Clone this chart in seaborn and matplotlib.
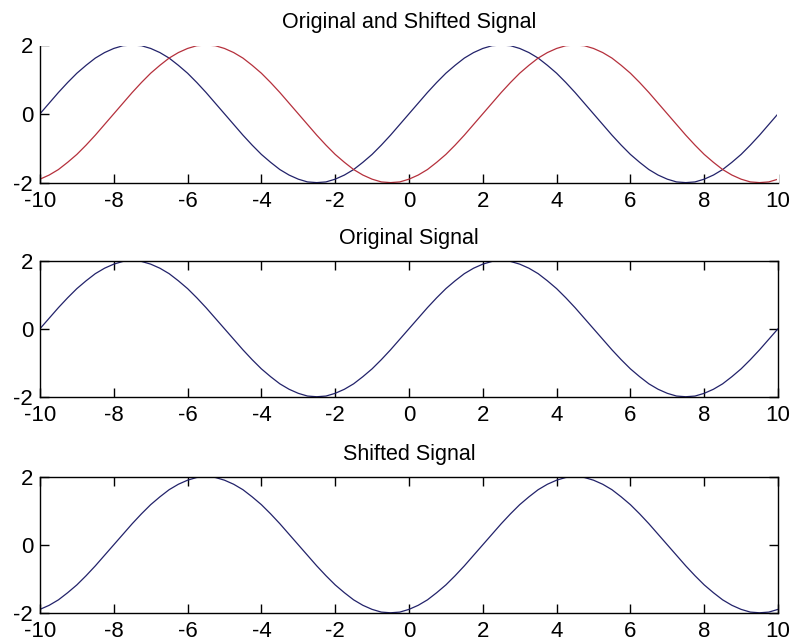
import numpy as np
import pandas as pd
import matplotlib
matplotlib.use("Agg")
import matplotlib.pyplot as plt
import seaborn as sns

x_vals = [-10.0, -9.75, -9.5, -9.25, -9.0, -8.75, -8.5, -8.25, -8.0, -7.75,
          -7.5, -7.25, -7.0, -6.75, -6.5, -6.25, -6.0, -5.75, -5.5, -5.25,
          -5.0, -4.75, -4.5, -4.25, -4.0, -3.75, -3.5, -3.25, -3.0, -2.75,
          -2.5, -2.25, -2.0, -1.75, -1.5, -1.25, -1.0, -0.75, -0.5, -0.25,
          0.0, 0.25, 0.5, 0.75, 1.0, 1.25, 1.5, 1.75, 2.0, 2.25,
          2.5, 2.75, 3.0, 3.25, 3.5, 3.75, 4.0, 4.25, 4.5, 4.75,
          5.0, 5.25, 5.5, 5.75, 6.0, 6.25, 6.5, 6.75, 7.0, 7.25,
          7.5, 7.75, 8.0, 8.25, 8.5, 8.75, 9.0, 9.25, 9.5, 9.75,
          10.0]

original = [0.00, 0.31, 0.62, 0.91, 1.18, 1.41, 1.62, 1.78, 1.90, 1.98,
            2.00, 1.98, 1.90, 1.78, 1.62, 1.41, 1.18, 0.91, 0.62, 0.31,
            0.00, -0.31, -0.62, -0.91, -1.18, -1.41, -1.62, -1.78, -1.90, -1.98,
            -2.00, -1.98, -1.90, -1.78, -1.62, -1.41, -1.18, -0.91, -0.62, -0.31,
            0.00, 0.31, 0.62, 0.91, 1.18, 1.41, 1.62, 1.78, 1.90, 1.98,
            2.00, 1.98, 1.90, 1.78, 1.62, 1.41, 1.18, 0.91, 0.62, 0.31,
            0.00, -0.31, -0.62, -0.91, -1.18, -1.41, -1.62, -1.78, -1.90, -1.98,
            -2.00, -1.98, -1.90, -1.78, -1.62, -1.41, -1.18, -0.91, -0.62, -0.31,
            0.00]

shifted = [-1.90, -1.78, -1.62, -1.41, -1.18, -0.91, -0.62, -0.31, 0.00, 0.31,
           0.62, 0.91, 1.18, 1.41, 1.62, 1.78, 1.90, 1.98, 2.00, 1.98,
           1.90, 1.78, 1.62, 1.41, 1.18, 0.91, 0.62, 0.31, 0.00, -0.31,
           -0.62, -0.91, -1.18, -1.41, -1.62, -1.78, -1.90, -1.98, -2.00, -1.98,
           -1.90, -1.78, -1.62, -1.41, -1.18, -0.91, -0.62, -0.31, 0.00, 0.31,
           0.62, 0.91, 1.18, 1.41, 1.62, 1.78, 1.90, 1.98, 2.00, 1.98,
           1.90, 1.78, 1.62, 1.41, 1.18, 0.91, 0.62, 0.31, 0.00, -0.31,
           -0.62, -0.91, -1.18, -1.41, -1.62, -1.78, -1.90, -1.98, -2.00, -1.98,
           -1.90]

x_ticks = [-10, -8, -6, -4, -2, 0, 2, 4, 6, 8, 10]
y_ticks = [-2, 0, 2]

titles = ["Original and Shifted Signal", "Original Signal", "Shifted Signal"]

BLUE = "#22226a"
RED  = "#b5303c"

# ─── Style ────────────────────────────────────────────────────────────────────

sns.set_theme(style="white")
plt.rcParams["font.family"] = ["Liberation Sans", "DejaVu Sans"]
plt.rcParams["axes.unicode_minus"] = False

df = pd.DataFrame({"x": x_vals, "original": original, "shifted": shifted})

fig = plt.figure(figsize=(7.93, 6.43), dpi=100)
fig.patch.set_facecolor("white")

boxes = [
    [0.0504, 0.716, 0.9307, 0.214],
    [0.0504, 0.383, 0.9307, 0.2115],
    [0.0504, 0.047, 0.9307, 0.2115],
]
axes = [fig.add_axes(b) for b in boxes]

sns.lineplot(data=df, x="x", y="original", ax=axes[0], color=BLUE, lw=0.9)
sns.lineplot(data=df, x="x", y="shifted",  ax=axes[0], color=RED,  lw=0.9)
sns.lineplot(data=df, x="x", y="original", ax=axes[1], color=BLUE, lw=0.9)
sns.lineplot(data=df, x="x", y="shifted",  ax=axes[2], color=BLUE, lw=0.9)

for i, ax in enumerate(axes):
    ax.set_xlim(-10, 10)
    ax.set_ylim(-2, 2)
    ax.set_xticks(x_ticks)
    ax.set_yticks(y_ticks)
    ax.set_xlabel("")
    ax.set_ylabel("")
    ax.set_title(titles[i], fontsize=15.5, pad=12, color="black")
    ax.set_facecolor("white")
    for sp in ax.spines.values():
        sp.set_color("black")
        sp.set_linewidth(1.0)
        sp.set_visible(True)
    full = i > 0
    ax.tick_params(axis="both", direction="in", length=6.5, width=1.0,
                   labelsize=16, colors="black",
                   top=full, right=full, bottom=True, left=True)
    ax.tick_params(axis="x", pad=6)
    ax.tick_params(axis="y", pad=5)

# the top panel's upper and right border are drawn white and cover the curves
axes[0].spines["top"].set_color("white")
axes[0].spines["right"].set_color("white")
axes[0].spines["top"].set_linewidth(1.5)
axes[0].spines["right"].set_linewidth(1.5)

fig.savefig("out.png", dpi=100, facecolor="white")
